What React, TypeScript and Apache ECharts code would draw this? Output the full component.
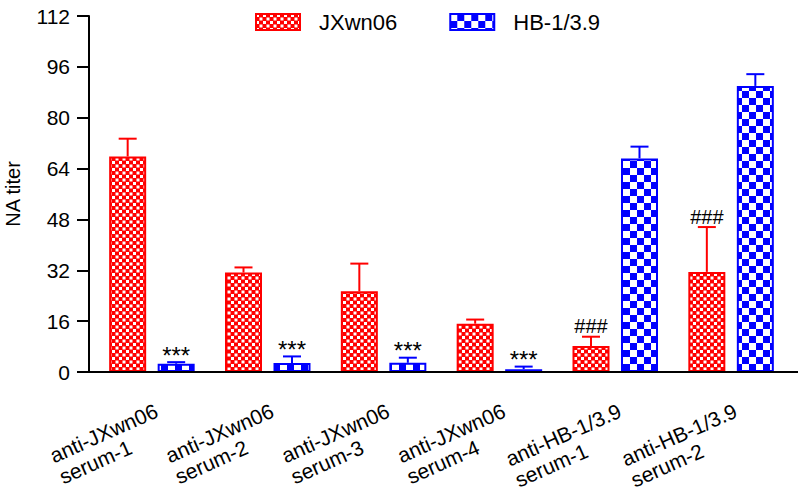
import React, { useEffect, useRef } from 'react';
import * as echarts from 'echarts';

const categories = [
  'anti-JXwn06\nserum-1',
  'anti-JXwn06\nserum-2',
  'anti-JXwn06\nserum-3',
  'anti-JXwn06\nserum-4',
  'anti-HB-1/3.9\nserum-1',
  'anti-HB-1/3.9\nserum-2',
];
const seriesNames = ['JXwn06', 'HB-1/3.9'];
const jxValues = [67.8, 31.3, 25.4, 15.2, 8.2, 31.5];
const jxErrors = [5.6, 1.6, 8.7, 1.3, 2.9, 14.1];
const jxMarks = ['', '', '', '', '###', '###'];
const hbValues = [2.6, 2.8, 2.9, 0.9, 67.2, 90.0];
const hbErrors = [0.5, 2.1, 1.6, 0.8, 3.7, 3.7];
const hbMarks = ['***', '***', '***', '***', '', ''];
const yMin = 0;
const yMax = 112;
const yInterval = 16;
const yAxisName = 'NA titer';

const FONT = "'Liberation Sans', Arial, Helvetica, sans-serif";
const RED = '#ff0000';
const BLUE = '#0000ff';
const BAR_W = 37;
const GAP_PX = 11.5;

function makePattern(period: number, cell: number, color: string) {
  const c = document.createElement('canvas');
  c.width = period;
  c.height = period;
  const ctx = c.getContext('2d')!;
  ctx.fillStyle = color;
  ctx.fillRect(0, 0, period, period);
  ctx.fillStyle = '#ffffff';
  ctx.fillRect(0, 0, cell, cell);
  ctx.fillRect(period / 2, period / 2, cell, cell);
  return c;
}

export default function App() {
  const ref = useRef<HTMLDivElement>(null);
  useEffect(() => {
    if (!ref.current) return;
    const chart = echarts.init(ref.current, undefined, { renderer: 'svg' });
    const redPat = makePattern(7, 3, RED);
    const bluePat = makePattern(14, 7, BLUE);

    const errSeries = (values: number[], errors: number[], marks: string[], offset: number, color: string, name: string) => ({
      type: 'custom',
      name,
      z: 5,
      silent: true,
      data: values.map((v, i) => [i, v, errors[i]]),
      renderItem: (params: any, api: any) => {
        const i = api.value(0);
        const v = api.value(1);
        const e = api.value(2);
        const base = api.coord([i, v]);
        const top = api.coord([i, v + e]);
        const x = base[0] + offset;
        const children: any[] = [
          { type: 'line', shape: { x1: x, y1: base[1], x2: x, y2: top[1] }, style: { stroke: color, lineWidth: 2 } },
          { type: 'line', shape: { x1: x - 9, y1: top[1], x2: x + 9, y2: top[1] }, style: { stroke: color, lineWidth: 2 } },
        ];
        const m = marks[params.dataIndex];
        if (m) {
          const isStar = m.indexOf('*') >= 0;
          children.push({
            type: 'text',
            style: {
              x,
              y: top[1] - (isStar ? 7 : 10.5),
              text: m,
              fill: '#000',
              font: `${isStar ? 24 : 20}px ${FONT}`,
              align: 'center',
              verticalAlign: 'middle',
            },
          });
        }
        return { type: 'group', children };
      },
    });

    const off = (BAR_W + GAP_PX) / 2;

    chart.setOption({
      animation: false,
      textStyle: { fontFamily: FONT },
      grid: { left: 94, right: 9, top: 16, bottom: 116, containLabel: false, outerBoundsMode: 'none' },
      legend: {
        data: seriesNames,
        left: 255,
        top: 11,
        padding: 0,
        itemWidth: 44,
        itemHeight: 16,
        itemGap: 52,
        icon: 'rect',
        textStyle: { fontSize: 22, color: '#000', fontFamily: FONT, padding: [0, 0, 0, 14] },
      },
      xAxis: {
        type: 'category',
        data: categories,
        axisLine: { lineStyle: { color: '#000', width: 2 } },
        axisTick: { alignWithLabel: true, length: 20, lineStyle: { color: '#000', width: 2 } },
        axisLabel: {
          interval: 0,
          rotate: 24,
          margin: 27,
          color: '#000',
          fontSize: 21,
          fontFamily: FONT,
          verticalAlign: 'top',
          formatter: (v: string) => v.split('\n').map((s) => `{l|${s}}`).join('\n'),
          rich: { l: { fontSize: 21, lineHeight: 23, fontFamily: FONT, color: '#000', align: 'left' } },
        },
      },
      yAxis: {
        type: 'value',
        min: yMin,
        max: yMax,
        interval: yInterval,
        offset: 5,
        name: yAxisName,
        nameLocation: 'middle',
        nameGap: 66,
        nameTextStyle: { fontSize: 20, color: '#000', fontFamily: FONT },
        axisLine: { show: true, lineStyle: { color: '#000', width: 2 } },
        axisTick: { show: true, length: 12, lineStyle: { color: '#000', width: 2 } },
        axisLabel: { margin: 19, color: '#000', fontSize: 21, fontFamily: FONT },
        splitLine: { show: false },
      },
      graphic: [
        {
          type: 'line',
          shape: { x1: 89, y1: 372, x2: 798, y2: 372 },
          style: { stroke: '#000', lineWidth: 2 },
          z: 10,
        },
      ],
      series: [
        {
          type: 'bar',
          name: seriesNames[0],
          data: jxValues,
          barWidth: BAR_W,
          barGap: `${(GAP_PX / BAR_W) * 100}%`,
          itemStyle: { color: { image: redPat, repeat: 'repeat' }, borderColor: RED, borderWidth: 2 },
        },
        {
          type: 'bar',
          name: seriesNames[1],
          data: hbValues,
          barWidth: BAR_W,
          barGap: `${(GAP_PX / BAR_W) * 100}%`,
          itemStyle: { color: { image: bluePat, repeat: 'repeat' }, borderColor: BLUE, borderWidth: 2 },
        },
        errSeries(jxValues, jxErrors, jxMarks, -off, RED, 'errJX'),
        errSeries(hbValues, hbErrors, hbMarks, off, BLUE, 'errHB'),
      ],
    });
    return () => chart.dispose();
  }, []);
  return <div ref={ref} style={{ position: 'fixed', left: 0, top: 0, width: 798, height: 488, background: '#fff' }} />;
}
